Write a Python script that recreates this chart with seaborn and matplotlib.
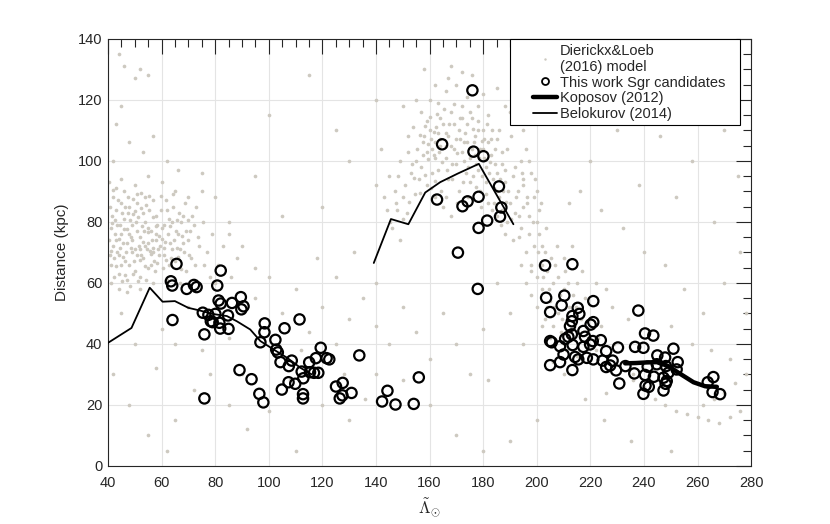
import numpy as np
import pandas as pd
import matplotlib
matplotlib.use("Agg")
import matplotlib.pyplot as plt
import seaborn as sns
from matplotlib.lines import Line2D
from matplotlib.legend_handler import HandlerLine2D
from matplotlib.ticker import MultipleLocator

# --- Dierickx & Loeb (2016) model particles (by region) ---
left_cloud = [
    (41, 78), (42, 72), (43, 84), (44, 69), (45, 76), (46, 81), (47, 73), (48, 66), (49, 79), (50, 71),
    (51, 86), (52, 75), (53, 68), (54, 80), (55, 73), (56, 77), (57, 70), (58, 82), (42, 88), (44, 63),
    (46, 90), (48, 85), (50, 64), (52, 62), (54, 88), (56, 66), (58, 74), (60, 78), (61, 69), (62, 84),
    (63, 73), (64, 80), (65, 67), (66, 76), (67, 71), (68, 82), (69, 64), (70, 74), (71, 68), (72, 79),
    (41, 66), (43, 91), (45, 86), (47, 61), (49, 70), (51, 77), (53, 83), (55, 65), (57, 87), (59, 69),
    (40.5, 74), (41.5, 82), (42.5, 76), (43.5, 70), (44.5, 79), (45.5, 73), (46.5, 67), (47.5, 83),
    (48.5, 75), (49.5, 63), (50.5, 80), (51.5, 72), (52.5, 69), (53.5, 77), (54.5, 71), (55.5, 84),
    (56.5, 74), (57.5, 64), (58.5, 79), (59.5, 72), (60.5, 65), (61.5, 87), (62.5, 76), (63.5, 68),
    (64.5, 74), (66.5, 83), (68.5, 70), (70.5, 77), (74, 72), (76, 66), (73, 85), (78, 62), (65, 90),
    (60, 93), (55, 95), (50, 92), (45, 94), (40.5, 93), (41, 60), (44, 58), (47, 57), (52, 58), (57, 60),
    (62, 61), (67, 60), (41.2, 70.5), (42.8, 80.5), (44.2, 74.5), (45.8, 68.5), (47.2, 77.5), (48.8, 71.5),
    (50.2, 83.5), (51.8, 67.5), (53.2, 73.5), (54.8, 76.5), (56.2, 69.5), (57.8, 78.5), (59.2, 75.5),
    (60.8, 71.5), (63.2, 78.5), (65.8, 71.5), (67.8, 75.5), (69.8, 80.5), (43.2, 65.5), (46.2, 62.5),
    (49.2, 87.5), (52.2, 89.5), (44, 135), (46, 131), (52, 130), (50, 127), (55, 128), (45, 118),
    (43, 112), (48, 106), (57, 108), (62, 100), (75, 96), (80, 88), (85, 76), (90, 72), (95, 65),
    (42, 100), (53, 103), (66, 97),
    (40.8, 85), (41.7, 79.5), (42.3, 68), (43.1, 74), (43.8, 87), (44.7, 71.5), (45.3, 83), (46.1, 77.5),
    (46.8, 70), (47.6, 88), (48.3, 80.5), (49.1, 74), (49.8, 67), (50.7, 89), (51.3, 81.5), (52.1, 71),
    (52.8, 78.5), (53.7, 65.5), (54.3, 85.5), (55.1, 78), (55.8, 70.5), (56.7, 81.5), (57.3, 67),
    (58.1, 76), (58.8, 71), (59.7, 84), (60.2, 74.5), (61.1, 79), (61.8, 67.5), (62.7, 81), (63.8, 71),
    (64.2, 85), (65.3, 77), (66.1, 68.5), (67.2, 80), (68.1, 73), (69.3, 77), (70.2, 69), (71.4, 82),
    (72.6, 66), (40.6, 69), (41.9, 90.5), (43.4, 79), (44.9, 66), (46.4, 85), (47.9, 76), (49.4, 82.5),
    (50.9, 69), (52.4, 84.5), (53.9, 72), (55.4, 88.5), (56.9, 71.5), (58.4, 66.5), (59.9, 88.5),
    (61.4, 73.5), (62.9, 66), (64.4, 89), (65.9, 80.5), (67.4, 64.5), (68.9, 86), (42.1, 62), (45.1, 60.5),
    (48.1, 59), (51.1, 60.5), (54.1, 61), (73.5, 75), (75.5, 80), (77, 70), (79, 76), (81, 66), (83, 72),
    (86, 62), (88, 68), (75, 90), (70, 88),
]
top_cloud = [
    (158, 108), (160, 110), (162, 106), (161, 104), (163, 109), (159, 103), (165, 112), (167, 108),
    (169, 104), (171, 110), (173, 106), (175, 101), (177, 108), (179, 104), (181, 98), (183, 102),
    (185, 96), (187, 99), (176, 114), (178, 97), (170, 99), (166, 101), (164, 114), (168, 116),
    (172, 118), (174, 112), (180, 110), (182, 106), (184, 91), (186, 88), (188, 93), (190, 86),
    (189, 80), (192, 83), (194, 78), (191, 74), (196, 70), (198, 66), (193, 90), (195, 85), (155, 100),
    (153, 96), (151, 92), (150, 88), (148, 84), (147, 90), (152, 103), (156, 94), (154, 111), (157, 116),
    (160, 120), (163, 119), (166, 123), (170, 125), (174, 121), (178, 118), (182, 115), (186, 110),
    (189, 104), (192, 98), (195, 94), (163, 97), (167, 94), (171, 90), (175, 93), (179, 90), (182, 86),
    (185, 82), (188, 76), (159, 92), (162, 88), (165, 85), (168, 82), (146, 78), (149, 74), (144, 84),
    (145, 95), (149, 100), (152, 108), (157, 98), (161, 96), (169, 112), (173, 100), (177, 102),
    (181, 93), (184, 86), (187, 84), (159, 113), (162, 101), (164, 105), (166, 109), (168, 105),
    (170, 107), (172, 103), (174, 106), (176, 104), (178, 110), (180, 104), (183, 107), (158, 130),
    (168, 131), (176, 128), (185, 124), (140, 92), (142, 104), (197, 100), (200, 80), (202, 72),
    (150, 118), (190, 116), (195, 110), (160.5, 107), (161.5, 109.5), (159.5, 105.5), (162.5, 111),
    (157.5, 106), (163.5, 103), (176.5, 106), (178.5, 101), (180.5, 107), (182.5, 99.5), (184.5, 104),
    (179.5, 95), (183.5, 94), (187.5, 90), (171.5, 114), (173.5, 96), (166.5, 97), (154.5, 89),
    (151.5, 83), (188.5, 86.5), (190.5, 81), (186.5, 79), (193.5, 75),
    (155.5, 104), (156.5, 108.5), (158.2, 111.5), (159.3, 100.5), (160.2, 114.5), (161.8, 102),
    (162.8, 115.5), (163.8, 107), (164.6, 99.5), (165.4, 117), (166.2, 105), (167.3, 112), (168.2, 99),
    (169.3, 118.5), (170.2, 102.5), (171.3, 107), (172.2, 114), (173.2, 109), (174.3, 98), (175.2, 116),
    (176.2, 110.5), (177.4, 99), (178.2, 113), (179.4, 106.5), (180.3, 101), (181.3, 112), (182.2, 96),
    (183.4, 110), (184.3, 99), (185.3, 107), (186.3, 94), (187.2, 103), (188.3, 97), (189.2, 90),
    (190.3, 108), (191.2, 95), (192.4, 88), (193.2, 82), (194.3, 100), (196.2, 88), (153.3, 99),
    (154.2, 94.5), (156.3, 89.5), (157.4, 102), (158.3, 95.5), (160.4, 91), (162.2, 93.5), (164.3, 90),
    (166.2, 88), (168.4, 94), (170.3, 86), (172.4, 93), (174.3, 88), (176.2, 95), (177.3, 91.5),
    (179.2, 85), (181.2, 89), (183.2, 84), (185.2, 90), (148.3, 95), (150.2, 81), (152.3, 86.5),
    (147.4, 86), (145.3, 80), (143.2, 88), (167, 127), (172, 129), (180, 122), (162, 125), (188, 118),
    (155, 120),
]
right_cloud = [
    (196, 104), (198, 96), (200, 90), (197, 82), (201, 76), (203, 70), (199, 72), (204, 64), (206, 60),
    (202, 58), (205, 54), (208, 50), (200, 62), (207, 66), (210, 58), (212, 52), (214, 46), (209, 44),
    (211, 38), (215, 60), (218, 55), (220, 48), (223, 42), (226, 36), (229, 40), (232, 34), (236, 30),
    (240, 26), (244, 22), (248, 20), (252, 18), (256, 17), (260, 16), (264, 15), (268, 14), (272, 16),
    (276, 18), (262, 20), (266, 22), (270, 24), (274, 27), (278, 30), (205, 42), (203, 48), (198, 56),
    (194, 66), (213, 72), (217, 64), (222, 60), (228, 52), (234, 48), (242, 44), (250, 46), (258, 40),
    (265, 38), (272, 35), (262, 50), (270, 60), (255, 58), (248, 66), (240, 70), (232, 78), (224, 84),
    (216, 90), (238, 92), (252, 88), (266, 80), (276, 70), (246, 108), (258, 100), (230, 110),
    (212, 120), (270, 110), (236, 28), (226, 24), (218, 22), (210, 30), (206, 34), (212, 86), (220, 100),
    (199, 88), (201, 84), (195, 92), (197, 76), (202, 66), (204, 52), (206, 46), (208, 62), (210, 68),
    (194.5, 96), (196.5, 86), (198.5, 80), (199.5, 94), (200.5, 70), (201.5, 86), (202.5, 62),
    (203.5, 78), (204.5, 58), (205.5, 68), (206.5, 52), (207.5, 72), (208.5, 56), (209.5, 48),
    (210.5, 64), (211.5, 60), (212.5, 44), (213.5, 56), (214.5, 52), (216.5, 48), (198, 64), (200, 52),
    (202, 46), (196, 60), (210, 40), (215, 36), (219, 42), (222, 38), (224, 46), (226, 58),
]
field = [
    (60, 45), (65, 40), (70, 52), (75, 38), (80, 60), (85, 42), (90, 30), (95, 55), (100, 62), (105, 50),
    (110, 58), (115, 44), (120, 52), (125, 40), (130, 48), (135, 55), (140, 46), (145, 40), (150, 52),
    (155, 44), (125, 62), (118, 68), (132, 70), (140, 60), (112, 38), (108, 28), (100, 18), (92, 12),
    (85, 20), (78, 30), (72, 25), (65, 15), (58, 32), (50, 40), (45, 50), (42, 30), (48, 20), (55, 10),
    (62, 5), (120, 20), (130, 15), (140, 30), (150, 28), (160, 35), (165, 50), (170, 40), (175, 30),
    (180, 45), (185, 60), (190, 50), (160, 20), (170, 10), (182, 28), (195, 40), (120, 85), (130, 100),
    (105, 82), (95, 95), (100, 115), (140, 120), (115, 128), (125, 110), (200, 130), (220, 125),
    (240, 120), (260, 128), (275, 95), (278, 50), (225, 15), (235, 8), (250, 5), (200, 15), (190, 8),
    (180, 5), (110, 5), (85, 80), (128, 30), (136, 22),
]

# --- this work: Sgr candidates ---
sgr_candidates = [
    (65.6, 66.2), (63.5, 60.5), (64.0, 59.1), (64.1, 47.8), (69.4, 58.0), (72.1, 59.3), (73.1, 58.6),
    (82.1, 64.0), (80.8, 59.1), (81.3, 54.2), (82.1, 53.2), (86.3, 53.4), (89.6, 55.3), (90.6, 52.3),
    (89.8, 51.3), (75.4, 50.2), (77.5, 49.5), (80.1, 49.8), (84.8, 49.3), (78.4, 47.4), (79.1, 47.1),
    (81.6, 46.9), (81.9, 45.0), (85.0, 44.9), (76.0, 43.1), (76.0, 22.1), (89.1, 31.4), (93.6, 28.4),
    (96.9, 40.5), (98.5, 46.7), (98.4, 43.8), (96.5, 23.6), (98.0, 20.8), (102.5, 41.3), (102.8, 38.1),
    (103.4, 37.2), (104.4, 34.0), (105.9, 45.1), (107.5, 32.7), (108.6, 34.5), (104.9, 25.0),
    (107.4, 27.4), (109.9, 26.9), (111.5, 48.0), (112.3, 30.9), (112.9, 28.7), (112.8, 23.5),
    (112.8, 22.1), (115.1, 33.9), (117.6, 35.3), (116.9, 30.5), (118.5, 30.5), (119.4, 38.7),
    (121.6, 35.3), (122.6, 34.9), (125.1, 26.0), (127.6, 27.2), (126.5, 22.1), (127.5, 23.1),
    (130.9, 23.9), (133.8, 36.2), (115.4, 30.7),
    (156.0, 29.0), (144.3, 24.6), (142.3, 21.1), (147.3, 20.1), (154.1, 20.3),
    (176.0, 123.1), (164.7, 105.4), (176.4, 103.0), (180.1, 101.5), (185.9, 91.6), (162.8, 87.3),
    (174.2, 86.7), (172.3, 85.1), (178.3, 88.2), (186.8, 84.7), (186.3, 81.7), (181.5, 80.4),
    (178.3, 78.0), (170.6, 69.9), (178.0, 58.0),
    (203.1, 65.7), (213.3, 66.1), (203.5, 55.1), (210.3, 55.8), (205.0, 50.4), (209.3, 52.6),
    (221.1, 54.0), (215.3, 51.8), (215.9, 49.8), (213.3, 49.1), (213.1, 47.4), (212.4, 45.8),
    (220.1, 46.3), (221.1, 47.1), (217.4, 44.2), (218.0, 42.3), (205.0, 40.9), (205.6, 40.5),
    (210.6, 41.6), (211.8, 42.3), (213.1, 43.1), (208.7, 39.2), (213.4, 39.6), (217.4, 39.0),
    (219.9, 39.8), (220.9, 40.9), (223.9, 41.2), (225.9, 37.6), (230.3, 38.8), (210.0, 36.5),
    (214.3, 35.7), (215.5, 34.9), (218.7, 35.4), (221.1, 34.9), (224.6, 34.5), (228.3, 34.5),
    (208.7, 34.0), (205.0, 33.0), (213.3, 31.4), (225.9, 32.4), (227.4, 32.9), (229.6, 31.3),
    (230.8, 27.0), (233.1, 32.7), (236.7, 39.0), (239.8, 38.7), (237.9, 50.9), (240.4, 43.4),
    (243.5, 42.7), (251.0, 38.4), (245.0, 36.2), (247.9, 35.5), (252.6, 34.0), (241.4, 32.5),
    (244.8, 33.3), (248.2, 32.7), (252.2, 31.6), (236.4, 30.3), (240.4, 29.8), (243.7, 29.2),
    (249.1, 30.5), (247.3, 28.9), (248.5, 27.8), (248.1, 26.9), (240.6, 26.3), (241.8, 25.9),
    (239.8, 23.6), (247.3, 24.7), (265.9, 29.1), (263.8, 27.4), (265.6, 24.2), (268.4, 23.5),
]

# --- Koposov (2012) ---
koposov_lam = [233.0, 237.0, 241.0, 244.8, 249.1, 252.9, 258.5, 262.8, 267.2]
koposov_dist = [33.6, 33.7, 33.9, 34.0, 32.7, 30.5, 27.4, 26.1, 25.9]

# --- Belokurov (2014), two separate pieces ---
belokurov_lam_a = [40.0, 48.8, 55.6, 60.4, 65.0, 70.0, 74.4, 79.0, 84.4, 88.1, 93.1, 96.9,
                   101.9, 106.9, 111.9, 116.0]
belokurov_dist_a = [40.3, 45.2, 58.4, 53.8, 54.0, 51.8, 50.9, 49.8, 49.1, 47.4, 44.7, 40.9,
                    38.1, 35.4, 32.1, 30.0]
belokurov_lam_b = [139.2, 145.6, 152.1, 158.4, 164.0, 170.5, 178.4, 191.3]
belokurov_dist_b = [66.5, 80.9, 79.2, 89.6, 93.0, 95.8, 99.0, 79.2]

legend_labels = ["Dierickx&Loeb\n(2016) model", "This work Sgr candidates",
                 "Koposov (2012)", "Belokurov (2014)"]


class RightHandle(HandlerLine2D):
    # squeeze the handle into the right part of its slot, like the MATLAB legend
    def get_xdata(self, legend, xdescent, ydescent, width, height, fontsize):
        x, xm = super().get_xdata(legend, xdescent, ydescent, width, height, fontsize)
        lo = -xdescent + 0.44 * width
        x = lo + (np.asarray(x, float) + xdescent) * 0.56
        xm = lo + (np.asarray(xm, float) + xdescent) * 0.56
        return x, xm


model = pd.DataFrame(left_cloud + top_cloud + right_cloud + field, columns=["lam", "dist"])
sgr = pd.DataFrame(sgr_candidates, columns=["lam", "dist"])
belokurov = pd.DataFrame({
    "lam": belokurov_lam_a + belokurov_lam_b,
    "dist": belokurov_dist_a + belokurov_dist_b,
    "piece": ["a"] * len(belokurov_lam_a) + ["b"] * len(belokurov_lam_b),
})

sns.set_theme(style="white")
plt.rcParams["font.family"] = ["Liberation Sans", "DejaVu Sans"]
plt.rcParams["mathtext.fontset"] = "cm"
plt.rcParams["legend.fancybox"] = False

fig = plt.figure(figsize=(8.3, 5.24), dpi=100)
ax = fig.add_axes([0.130, 0.111, 0.775, 0.815])

dot_color = "#cdc9c0"
sns.scatterplot(data=model, x="lam", y="dist", s=7, color=dot_color, linewidth=0,
                ax=ax, zorder=1, legend=False)
sns.scatterplot(data=sgr, x="lam", y="dist", s=55, marker="o", color="black",
                ax=ax, zorder=3, legend=False)
circles = ax.collections[-1]
circles.set_facecolor("none")
circles.set_edgecolor("black")
circles.set_linewidth(1.6)

sns.lineplot(x=koposov_lam, y=koposov_dist, sort=False, estimator=None,
             color="black", linewidth=3.2, ax=ax, zorder=4)
sns.lineplot(data=belokurov, x="lam", y="dist", units="piece", sort=False, estimator=None,
             color="black", linewidth=1.3, ax=ax, zorder=5, legend=False)

ax.set_xlim(40, 280)
ax.set_ylim(0, 140)
ax.xaxis.set_major_locator(MultipleLocator(20))
ax.xaxis.set_minor_locator(MultipleLocator(5))
ax.yaxis.set_major_locator(MultipleLocator(20))
ax.yaxis.set_minor_locator(MultipleLocator(5))
ax.grid(True, which="major", color="#e4e4e4", linewidth=0.8)
ax.set_axisbelow(True)
ax.tick_params(which="both", direction="in", top=True, right=True,
               color="#262626", labelcolor="#262626", labelsize=10.5)
ax.tick_params(which="major", length=11, width=0.8)
ax.tick_params(which="minor", length=6, width=0.8)
ax.tick_params(axis="x", pad=7)
ax.tick_params(axis="y", pad=4)
for sp in ax.spines.values():
    sp.set_visible(True)
    sp.set_color("#262626")
    sp.set_linewidth(0.8)

ax.set_xlabel(r"$\tilde{\Lambda}_{\odot}$", fontsize=12, color="#262626", labelpad=5)
ax.set_ylabel("Distance (kpc)", fontsize=11, color="#262626", labelpad=6)

handles = [
    Line2D([], [], linestyle="none", marker=".", markersize=1.5, color=dot_color),
    Line2D([], [], linestyle="none", marker="o", markersize=5, markerfacecolor="none",
           markeredgecolor="black", markeredgewidth=1.3),
    Line2D([], [], color="black", linewidth=3.2),
    Line2D([], [], color="black", linewidth=1.3),
]
leg = ax.legend(handles, legend_labels, loc="upper left",
                bbox_to_anchor=(0.625, 0.999, 0.358, 0.0), mode="expand",
                fontsize=10.5, handlelength=2.95, handletextpad=0.2, borderpad=0.3,
                labelspacing=0.12, borderaxespad=0.0, framealpha=1.0,
                handler_map={Line2D: RightHandle()})
leg.get_frame().set_edgecolor("black")
leg.get_frame().set_linewidth(0.8)
leg.set_zorder(10)

fig.savefig("out.png", dpi=100)
